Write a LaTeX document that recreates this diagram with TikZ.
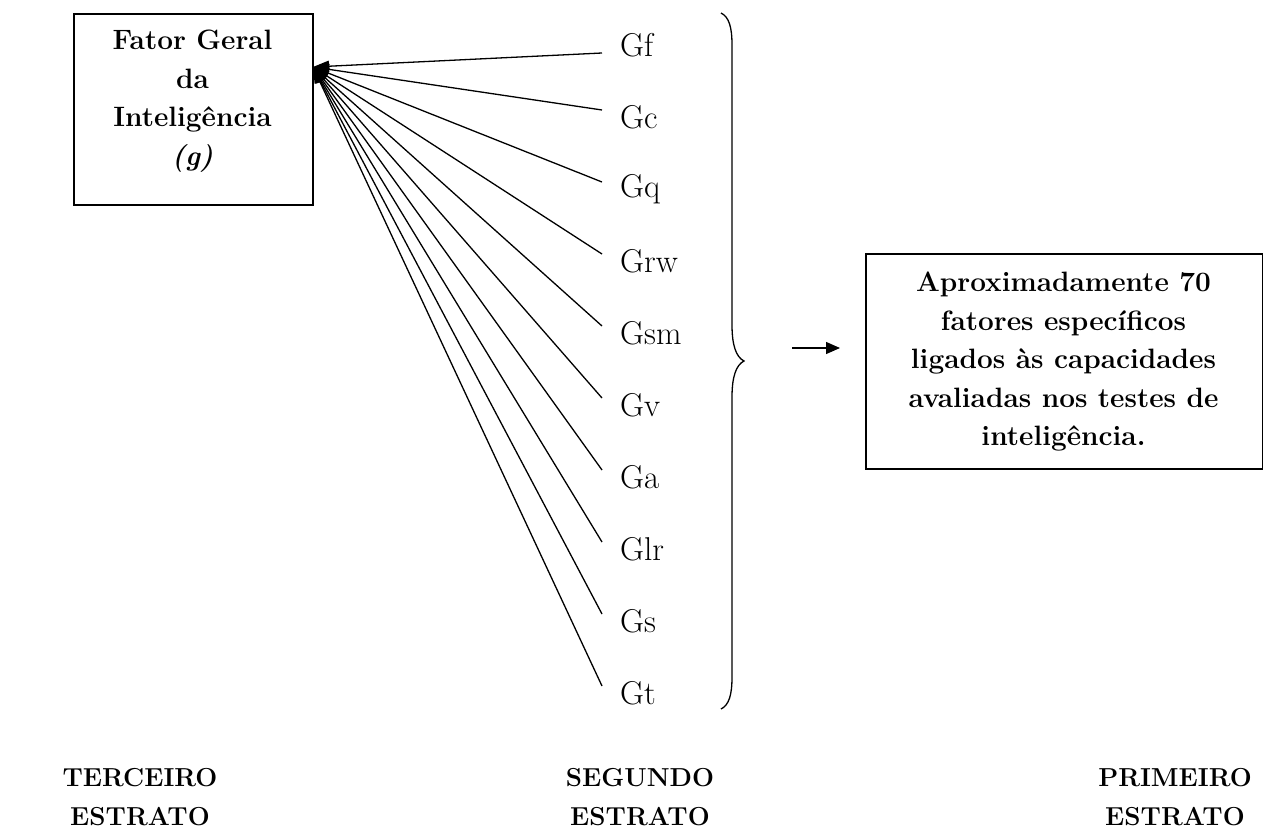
\documentclass[tikz,border=0pt]{standalone}
\usetikzlibrary{arrows.meta,calc}
\begin{document}
\begin{tikzpicture}[x=1pt,y=-1pt,
  boxtext/.style={font=\bfseries\fontsize{28}{38.5}\selectfont, align=center, inner sep=0},
  frame/.style={draw, line width=1.5, inner sep=0, anchor=north west},
  glabel/.style={font=\fontsize{33}{38}\selectfont, anchor=west, inner sep=0},
  conn/.style={line width=1.3, -{Triangle[length=16,width=11]}},
  arr/.style={line width=1.3, -{Triangle[length=14,width=12]}},
  stratum/.style={font=\bfseries\fontsize{26}{38.5}\selectfont, align=center, inner sep=0}]
\useasboundingbox (0,0) rectangle (1263,835);

% third stratum: general factor
\node[frame, minimum width=239, minimum height=191] (fator) at (73,13) {};
\node[boxtext] (fatortext) at (192.5,101) {Fator Geral\\da\\Inteligência\\\textit{(g)}};
\coordinate (tip) at (313,67);

% second stratum: broad abilities
\foreach \name [count=\k from 0] in {Gf,Gc,Gq,Grw,Gsm,Gv,Ga,Glr,Gs,Gt}{
  \node[glabel] (g\k) at (620,{45+72*\k}) {\name};
}
\coordinate (e0) at (602,53);
\foreach \k in {1,...,9}{
  \coordinate (e\k) at (602,{110+72*(\k-1)});
}
\foreach \k in {0,...,9}{
  \draw[conn] (e\k) -- (tip);
}

% brace grouping the broad abilities
\coordinate (bt) at (744,361);
\draw[line width=1.3] (721,13) .. controls (729,17) and (732,27) .. (732,45)
  -- (732,325) .. controls (732,345) and (736,357) .. (bt)
  .. controls (736,365) and (732,377) .. (732,397)
  -- (732,677) .. controls (732,695) and (729,705) .. (721,709);

% first stratum: specific factors
\node[frame, minimum width=397, minimum height=215] (prim) at (865,253) {};
\node[boxtext] (primtext) at (1063.5,362) {Aproximadamente 70\\fatores específicos\\ligados às capacidades\\avaliadas nos testes de\\inteligência.};
\coordinate (a0) at (792,348);
\draw[arr] (a0) -- ($(prim.west |- a0)+(-25,0)$);

% stratum captions
\node[stratum] (s3) at (140,797) {TERCEIRO\\ESTRATO};
\node[stratum] (s2) at (640,797) {SEGUNDO\\ESTRATO};
\node[stratum] (s1) at (1175,797) {PRIMEIRO\\ESTRATO};
\end{tikzpicture}
\end{document}
